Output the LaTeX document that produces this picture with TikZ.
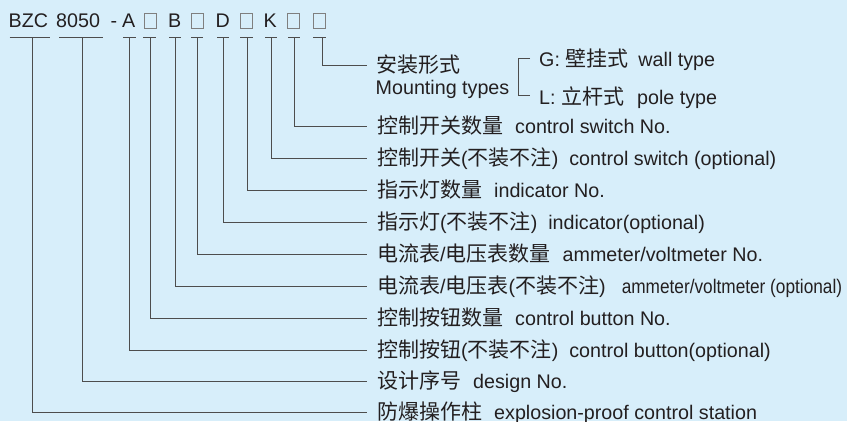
\documentclass[tikz,border=0pt]{standalone}
\usepackage{fontspec}
\usepackage{graphicx}
\setmainfont{Liberation Sans}
\newfontfamily\cjk{Noto Sans CJK SC}
\definecolor{bg}{HTML}{D7EEFA}
\definecolor{ln}{HTML}{4D4D4D}
\definecolor{tx}{HTML}{231F20}
\definecolor{bx}{HTML}{7F7F7F}
\newcommand{\zh}[1]{{\cjk\fontsize{21}{24}\selectfont #1}}
\begin{document}
\begin{tikzpicture}[x=1pt,y=-1pt,
  lbl/.style={anchor=base west, inner sep=0pt, text=tx, font=\fontsize{19.7}{22}\selectfont},
  rowlbl/.style={lbl, xshift=10pt, yshift=-7.5pt},
  conn/.style={draw=ln, line width=0.9pt},
  codebox/.style={draw=bx, line width=0.9pt, minimum width=12pt, minimum height=14.5pt, inner sep=0pt}]
\fill[bg] (0,0) rectangle (847,421);
\useasboundingbox (0,0) rectangle (847,421);

% code line
\node[lbl] (cBZC) at (8.5,27.5) {BZC};
\node[lbl] (c8050) at (56,27.5) {8050};
\node[lbl] (cdash) at (110.5,27.5) {-};
\node[lbl] (cA) at (122,27.5) {A};
\node[codebox] (b1) at (150,21) {};
\node[lbl] (cB) at (168,27.5) {B};
\node[codebox] (b2) at (197,21) {};
\node[lbl] (cD) at (215.5,27.5) {D};
\node[codebox] (b3) at (246.5,21) {};
\node[lbl] (cK) at (263.5,27.5) {K};
\node[codebox] (b4) at (293.5,21) {};
\node[codebox] (b5) at (319.5,21) {};

% underline ticks
\foreach \n/\a/\b/\v in {BZC/9.5/50/32, E/59/103/82, A/123/136/129, P1/143/156/150,
   B/169/181/175, P2/191/203/197, D/217/229/223, P3/240/253/247, K/265/277/271,
   P4/288/300/294, P5/313/326/322}{
  \draw[conn] (\a,37) -- (\b,37);
  \coordinate (t\n) at (\v,37);
}

% row end points
\coordinate (m0) at (367,65);
\coordinate (r1) at (367,126);
\coordinate (r2) at (367,158);
\coordinate (r3) at (367,190);
\coordinate (r4) at (367,222);
\coordinate (r5) at (367,254);
\coordinate (r6) at (367,286);
\coordinate (r7) at (367,318);
\coordinate (r8) at (367,350);
\coordinate (r9) at (367,381);
\coordinate (r10) at (367,412);

% connectors
\draw[conn] (tP5) |- (m0);
\draw[conn] (tP4) |- (r1);
\draw[conn] (tK) |- (r2);
\draw[conn] (tP3) |- (r3);
\draw[conn] (tD) |- (r4);
\draw[conn] (tP2) |- (r5);
\draw[conn] (tB) |- (r6);
\draw[conn] (tP1) |- (r7);
\draw[conn] (tA) |- (r8);
\draw[conn] (tE) |- (r9);
\draw[conn] (tBZC) |- (r10);

% mounting types
\node[lbl] (mzh) at (376,72) {\zh{安装形式}};
\node[lbl] (men) at (375.5,94) {Mounting types};
\coordinate (bt) at (530,58.5);
\coordinate (bb) at (530,95.5);
\draw[conn] (bt) -- ++(-12,0) |- (bb);
\node[lbl] (gG) at (539,66) {G: \zh{壁挂式}\hspace{10pt}wall type};
\node[lbl] (gL) at (539,104) {L: \zh{立杆式}\hspace{13pt}pole type};

% row labels
\node[rowlbl] (l1) at (r1) {\zh{控制开关数量}\hspace{12pt}control switch No.};
\node[rowlbl] (l2) at (r2) {\zh{控制开关}(\zh{不装不注})\hspace{11pt}control switch (optional)};
\node[rowlbl] (l3) at (r3) {\zh{指示灯数量}\hspace{12pt}indicator No.};
\node[rowlbl] (l4) at (r4) {\zh{指示灯}(\zh{不装不注})\hspace{11pt}indicator(optional)};
\node[rowlbl] (l5) at (r5) {\zh{电流表}/\zh{电压表数量}\hspace{12pt}ammeter/voltmeter No.};
\node[rowlbl] (l6) at (r6) {\zh{电流表}/\zh{电压表}(\zh{不装不注})\hspace{16pt}\scalebox{0.875}[1]{ammeter/voltmeter (optional)}};
\node[rowlbl] (l7) at (r7) {\zh{控制按钮数量}\hspace{12pt}control button No.};
\node[rowlbl] (l8) at (r8) {\zh{控制按钮}(\zh{不装不注})\hspace{11pt}control button(optional)};
\node[rowlbl] (l9) at (r9) {\zh{设计序号}\hspace{12pt}design No.};
\node[rowlbl] (l10) at (r10) {\zh{防爆操作柱}\hspace{12pt}explosion-proof control station};
\end{tikzpicture}
\end{document}
